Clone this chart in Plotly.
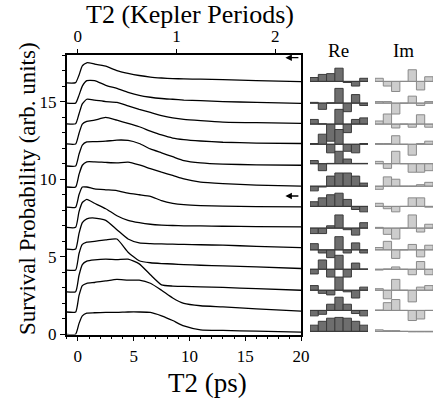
import plotly.graph_objects as go

# ---------------- data ----------------
# time grid (ps) on which each survival trace was read
t_ps = [-1.0, -0.2, 0.1, 0.4, 0.8, 1.5, 2.5, 3.5, 4.5, 5.5, 6.5, 7.5, 8.5, 9.5, 11, 13, 16, 20]

trace_01 = [16.2, 16.22, 16.7, 17.3, 17.5, 17.42, 17.28, 17.0, 16.82, 16.68, 16.58, 16.52, 16.48, 16.46, 16.44, 16.42, 16.35, 16.28]
trace_02 = [14.9, 14.9, 15.4, 16.0, 16.35, 16.35, 16.05, 15.85, 15.6, 15.4, 15.28, 15.2, 15.15, 15.1, 15.06, 15.0, 14.95, 14.88]
trace_03 = [13.57, 13.57, 14.2, 14.85, 15.15, 15.1, 15.0, 14.95, 14.72, 14.5, 14.3, 14.1, 13.95, 13.85, 13.77, 13.68, 13.64, 13.6]
trace_04 = [12.27, 12.27, 12.95, 13.55, 13.72, 13.8, 13.98, 13.8, 13.6, 13.38, 13.1, 12.85, 12.65, 12.55, 12.46, 12.38, 12.33, 12.3]
trace_05 = [10.85, 10.85, 11.6, 12.2, 12.4, 12.42, 12.45, 12.52, 12.5, 12.3, 11.95, 11.7, 11.45, 11.2, 11.05, 10.97, 10.93, 10.9]
trace_06 = [9.5, 9.5, 10.3, 10.9, 11.12, 11.12, 11.08, 11.05, 11.1, 10.92, 10.68, 10.45, 10.25, 10.02, 9.82, 9.72, 9.62, 9.55]
trace_07 = [8.2, 8.2, 9.0, 9.5, 9.5, 9.38, 9.32, 9.27, 9.1, 9.0, 8.9, 8.62, 8.45, 8.36, 8.3, 8.27, 8.24, 8.22]
trace_08 = [6.9, 6.9, 7.9, 8.5, 8.7, 8.45, 8.1, 7.65, 7.35, 7.2, 7.1, 7.05, 7.02, 7.0, 6.99, 6.97, 6.95, 6.93]
trace_09 = [5.5, 5.5, 6.5, 7.2, 7.45, 7.5, 7.35, 6.75, 6.15, 5.9, 5.85, 5.83, 5.82, 5.8, 5.78, 5.75, 5.68, 5.6]
trace_10 = [4.15, 4.15, 5.2, 5.8, 5.95, 6.0, 6.1, 6.15, 5.3, 4.75, 4.62, 4.57, 4.54, 4.5, 4.46, 4.42, 4.35, 4.25]
trace_11 = [2.75, 2.75, 3.8, 4.5, 4.72, 4.8, 4.85, 4.82, 4.85, 4.55, 3.85, 3.2, 3.12, 3.1, 3.07, 3.03, 2.95, 2.85]
trace_12 = [1.45, 1.45, 2.5, 3.15, 3.3, 3.35, 3.45, 3.55, 3.5, 3.5, 3.3, 2.85, 2.35, 2.0, 1.85, 1.78, 1.65, 1.5]
trace_13 = [0.0, 0.02, 0.7, 1.2, 1.38, 1.4, 1.42, 1.42, 1.45, 1.45, 1.42, 1.2, 0.9, 0.55, 0.3, 0.26, 0.22, 0.15]

survival_traces = [trace_01, trace_02, trace_03, trace_04, trace_05, trace_06, trace_07,
                   trace_08, trace_09, trace_10, trace_11, trace_12, trace_13]

# wavepacket amplitudes (7 basis states per row), rows top -> bottom
bar_states = [1, 2, 3, 4, 5, 6, 7]
bar_levels = [16.3, 14.9, 13.55, 12.25, 11.0, 9.55, 8.25, 6.85, 5.45, 4.2, 2.85, 1.55, 0.2]

re_amps = [
    [0.25, 0.45, 0.5, 0.85, -0.07, -0.3, 0.2],
    [0.05, -0.4, 0.02, 0.95, -0.55, 0.55, -0.15],
    [0.3, 0.02, -1.1, 0.95, -0.55, 0.3, 0.4],
    [0.05, 0.65, -0.55, 0.95, -0.45, -0.55, 0.05],
    [0.2, -0.45, 0.02, 0.8, 0.3, 0.02, 0.02],
    [-0.3, -0.05, 0.65, 0.85, 0.85, 0.65, 0.2],
    [0.3, 0.55, 0.75, 0.85, 0.45, -0.2, -0.35],
    [-0.35, -0.35, 0.15, 0.85, -0.1, -0.45, 0.35],
    [0.4, -0.2, -0.5, 0.85, -0.2, 0.45, -0.2],
    [-0.3, 0.6, -0.5, 0.9, -0.5, 0.4, 0.02],
    [0.3, -0.2, -0.3, 0.85, -0.1, -0.5, 0.2],
    [-0.35, -0.25, 0.4, 0.85, 0.4, -0.2, -0.35],
    [0.4, 0.65, 0.85, 0.9, 0.85, 0.65, 0.4],
]
im_amps = [
    [0.2, -0.3, -0.65, 0.0, 0.75, -0.55, 0.3],
    [0.1, 0.1, -0.7, 0.0, 0.45, -0.15, 0.1],
    [0.2, 0.65, -0.25, 0.0, -0.2, 0.6, -0.2],
    [0.05, 0.05, 0.55, 0.0, -0.7, 0.05, 0.2],
    [0.15, -0.3, 0.8, 0.0, -0.55, -0.55, -0.45],
    [-0.2, 0.6, 0.45, 0.0, 0.0, 0.1, 0.25],
    [0.2, -0.15, -0.35, 0.0, 0.55, 0.55, -0.05],
    [0.05, -0.4, -0.7, 0.0, 0.85, -0.25, 0.25],
    [0.15, 0.55, -0.55, 0.0, 0.35, -0.45, 0.3],
    [-0.05, 0.02, 0.15, 0.0, -0.35, 0.5, -0.35],
    [0.1, -0.55, 0.7, 0.0, -0.75, 0.2, 0.3],
    [0.03, 0.5, 0.7, 0.0, -0.65, -0.55, 0.0],
    [0.1, 0.05, 0.05, 0.0, -0.03, -0.03, -0.03],
]

ps_per_kepler = 8.85
x_range_ps = [-1.0, 20.0]
y_range = [0.0, 18.0]
bottom_ticks = [0, 5, 10, 15, 20]
top_ticks = [0, 1, 2]
left_ticks = [0, 5, 10, 15]
arrow_levels = [17.83, 8.92]

# ---------------- figure ----------------
FONT = "Liberation Serif"
W, H = 433, 401
fig = go.Figure()

for tr in survival_traces:
    fig.add_trace(go.Scatter(x=t_ps, y=tr, mode="lines",
                             line=dict(color="black", width=1.3, shape="spline", smoothing=0.5),
                             xaxis="x", yaxis="y", showlegend=False, hoverinfo="skip"))

# empty carrier so that the Kepler-period axis is drawn
fig.add_trace(go.Scatter(x=top_ticks, y=[None] * len(top_ticks), mode="markers",
                         xaxis="x3", yaxis="y", showlegend=False, hoverinfo="skip"))

def add_column(amps, axis, fill, edge):
    bx, by = [], []
    for lvl in bar_levels:
        bx += [bar_states[0] - 0.5, bar_states[-1] + 0.5, None]
        by += [lvl, lvl, None]
    fig.add_trace(go.Scatter(x=bx, y=by, mode="lines", line=dict(color=edge, width=1),
                             xaxis=axis, yaxis="y", showlegend=False, hoverinfo="skip"))
    for lvl, row in zip(bar_levels, amps):
        fig.add_trace(go.Bar(x=bar_states, y=row, base=lvl, width=1.0,
                             marker=dict(color=fill, line=dict(color=edge, width=1)),
                             xaxis=axis, yaxis="y", showlegend=False, hoverinfo="skip"))

add_column(re_amps, "x2", "#6e6e6e", "#3a3a3a")
add_column(im_amps, "x4", "#cdcdcd", "#8a8a8a")

for lvl in arrow_levels:
    fig.add_annotation(x=18.6, y=lvl, ax=19.9, ay=lvl, xref="x", yref="y",
                       axref="x", ayref="y", text="", showarrow=True,
                       arrowhead=2, arrowsize=1, arrowwidth=1.3, arrowcolor="black")

def paper_text(text, px, py, size, angle=0):
    fig.add_annotation(text=text, x=px / W, y=1 - py / H, xref="paper", yref="paper",
                       xanchor="center", yanchor="middle", textangle=angle,
                       showarrow=False, font=dict(family=FONT, size=size, color="black"))

paper_text("Re", 338, 51, 19)
paper_text("Im", 403, 51, 19)
paper_text("T2 (Kepler Periods)", 190, 14, 26)
paper_text("T2 (ps)", 207, 383, 27)
paper_text("Survival Probability (arb. units)", 27, 189, 23, angle=-90)

x_dom = [66.7 / W, 301 / W]
y_dom = [1 - 334.5 / H, 1 - 55 / H]
tickfont = dict(family=FONT, size=17, color="black")

fig.update_layout(
    width=W, height=H,
    margin=dict(l=0, r=0, t=0, b=0),
    paper_bgcolor="white", plot_bgcolor="white",
    barmode="overlay", showlegend=False,
    font=dict(family=FONT, color="black"),
    xaxis=dict(domain=x_dom, range=x_range_ps, anchor="y",
               tickmode="array", tickvals=bottom_ticks, ticks="outside",
               ticklen=5, tickwidth=1.2, tickcolor="black",
               minor=dict(dtick=1, ticks="outside", ticklen=3, tickwidth=1, tickcolor="black"),
               showline=True, linewidth=1.5, linecolor="black", mirror=False,
               showgrid=False, zeroline=False, tickfont=tickfont, automargin=False),
    xaxis3=dict(overlaying="x", side="top", anchor="y",
                range=[x_range_ps[0] / ps_per_kepler, x_range_ps[1] / ps_per_kepler],
                tickmode="array", tickvals=top_ticks, ticks="outside",
                ticklen=4, tickwidth=1.2, tickcolor="black",
                showline=True, linewidth=1.5, linecolor="black",
                showgrid=False, zeroline=False, tickfont=tickfont, automargin=False),
    yaxis=dict(domain=y_dom, range=y_range, anchor="x",
               tickmode="array", tickvals=left_ticks, ticks="outside",
               ticklen=5, tickwidth=1.2, tickcolor="black",
               minor=dict(dtick=1, ticks="outside", ticklen=3, tickwidth=1, tickcolor="black"),
               showline=True, linewidth=1.5, linecolor="black", mirror=True,
               showgrid=False, zeroline=False, tickfont=tickfont, automargin=False),
    xaxis2=dict(domain=[310 / W, 368 / W], range=[0.5, 7.5], anchor="y",
                visible=False, showgrid=False, zeroline=False),
    xaxis4=dict(domain=[375 / W, 433 / W], range=[0.5, 7.5], anchor="y",
                visible=False, showgrid=False, zeroline=False),
)

fig.write_html("out.html", config={"displayModeBar": False},
               post_script="document.body.style.margin='0';")
